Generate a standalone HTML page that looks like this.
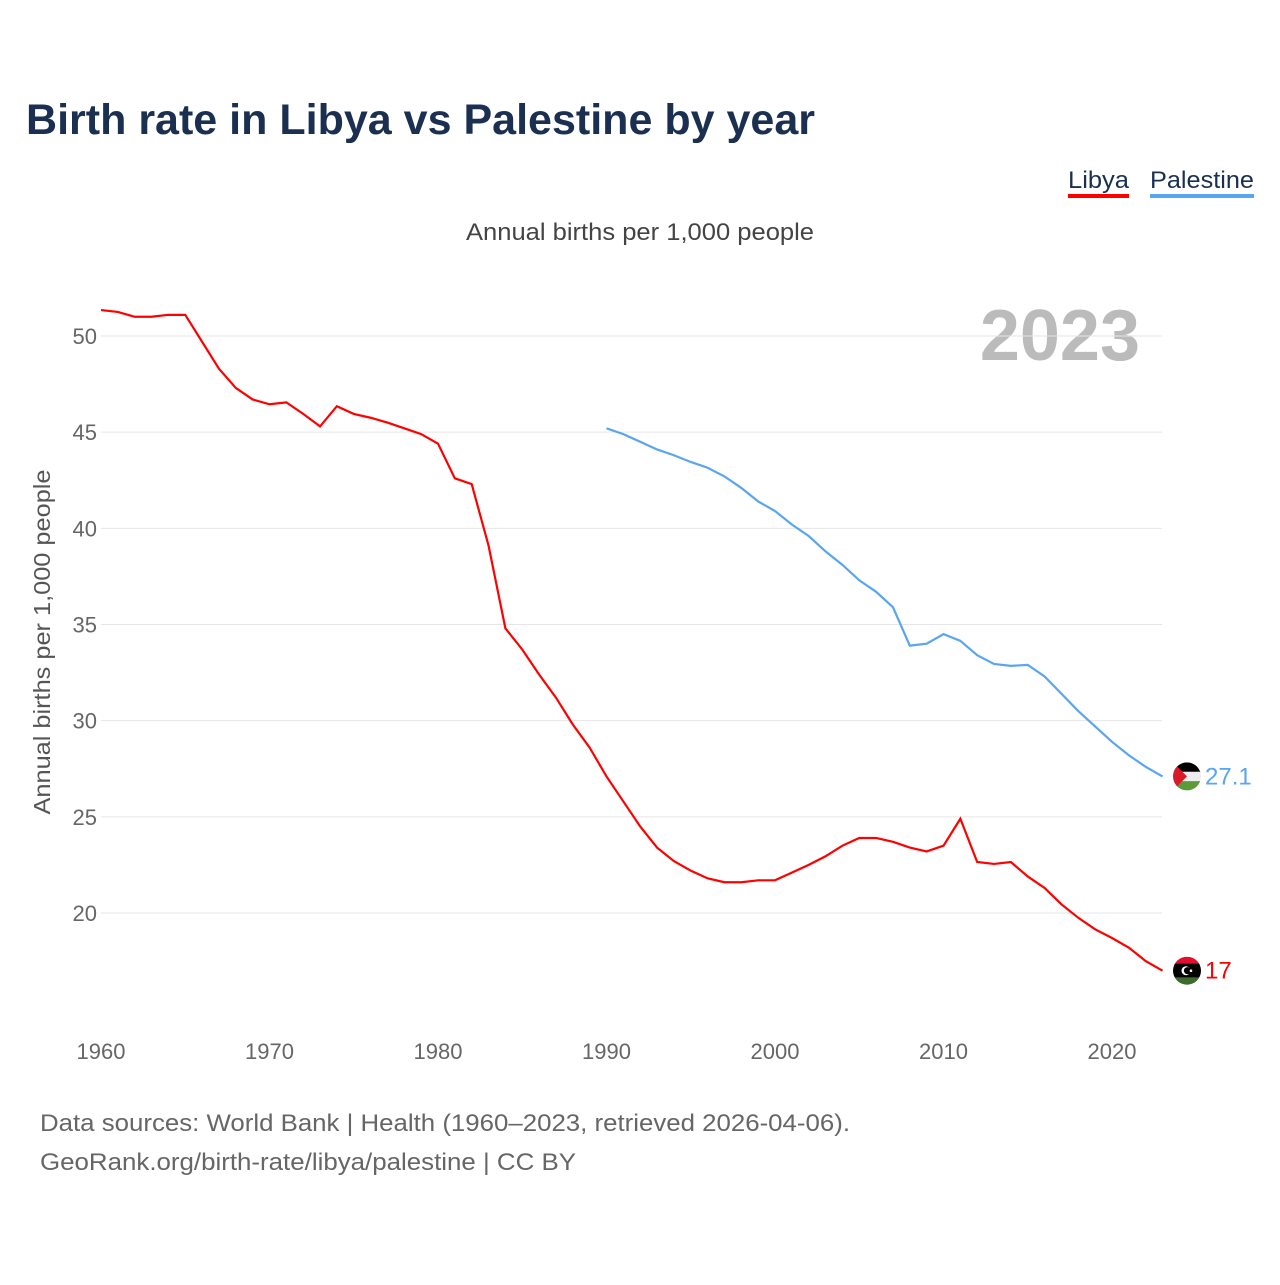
<!DOCTYPE html>
<html><head><meta charset="utf-8"><style>
body{margin:0;width:1280px;height:1280px;background:#fff;font-family:"Liberation Sans",sans-serif;overflow:hidden}
svg text{font-family:"Liberation Sans",sans-serif}
</style></head><body>
<svg width="1280" height="1280">
<text x="26" y="134" font-size="43" font-weight="bold" fill="#1b3050" textLength="789" lengthAdjust="spacingAndGlyphs">Birth rate in Libya vs Palestine by year</text>
<g>
<text x="1068" y="188" font-size="24" fill="#1b3050" textLength="61" lengthAdjust="spacingAndGlyphs">Libya</text>
<rect x="1068" y="194" width="61" height="4" fill="#ff0000"></rect>
<text x="1150" y="188" font-size="24" fill="#1b3050" textLength="104" lengthAdjust="spacingAndGlyphs">Palestine</text>
<rect x="1150" y="194" width="104" height="4" fill="#5aa5ef"></rect>
</g>
<text x="466" y="240" font-size="24" fill="#444" textLength="348" lengthAdjust="spacingAndGlyphs">Annual births per 1,000 people</text>
<text transform="translate(50,642) rotate(-90)" font-size="23" fill="#555" text-anchor="middle" textLength="345" lengthAdjust="spacingAndGlyphs">Annual births per 1,000 people</text>
<text x="1140" y="360" font-size="72" font-weight="bold" fill="#bbb" text-anchor="end">2023</text>
<g id="grid"></g><g id="lines"></g>
<text x="40" y="1131" font-size="24" fill="#666" textLength="810" lengthAdjust="spacingAndGlyphs">Data sources: World Bank | Health (1960–2023, retrieved 2026-04-06).</text>
<text x="40" y="1170" font-size="24" fill="#666" textLength="536" lengthAdjust="spacingAndGlyphs">GeoRank.org/birth-rate/libya/palestine | CC BY</text>
</svg>
<script>
const libyaYears=[1960,1961,1962,1963,1964,1965,1966,1967,1968,1969,1970,1971,1972,1973,1974,1975,1976,1977,1978,1979,1980,1981,1982,1983,1984,1985,1986,1987,1988,1989,1990,1991,1992,1993,1994,1995,1996,1997,1998,1999,2000,2001,2002,2003,2004,2005,2006,2007,2008,2009,2010,2011,2012,2013,2014,2015,2016,2017,2018,2019,2020,2021,2022,2023];
const libyaValues=[51.35,51.25,51.0,51.0,51.1,51.1,49.7,48.3,47.3,46.7,46.45,46.55,45.95,45.3,46.35,45.95,45.75,45.5,45.2,44.9,44.4,42.6,42.3,39.1,34.8,33.7,32.4,31.2,29.8,28.6,27.1,25.8,24.5,23.4,22.7,22.2,21.8,21.6,21.6,21.7,21.7,22.1,22.5,22.95,23.5,23.9,23.9,23.7,23.4,23.2,23.5,24.9,22.65,22.55,22.65,21.9,21.3,20.45,19.75,19.15,18.7,18.2,17.5,17.0];
const palYears=[1990,1991,1992,1993,1994,1995,1996,1997,1998,1999,2000,2001,2002,2003,2004,2005,2006,2007,2008,2009,2010,2011,2012,2013,2014,2015,2016,2017,2018,2019,2020,2021,2022,2023];
const palValues=[45.2,44.9,44.5,44.1,43.8,43.45,43.15,42.7,42.1,41.4,40.9,40.2,39.6,38.8,38.1,37.3,36.7,35.9,33.9,34.0,34.5,34.15,33.4,32.95,32.85,32.9,32.3,31.4,30.5,29.7,28.9,28.2,27.6,27.1];
const yTicks=[20,25,30,35,40,45,50];
const xTicks=[1960,1970,1980,1990,2000,2010,2020];
const NS="http://www.w3.org/2000/svg";
const xs=y=>101+(y-1960)*16.85;
const ys=v=>336+(50-v)*19.233;
function mk(t,a,p){const e=document.createElementNS(NS,t);for(const k in a)e.setAttribute(k,a[k]);p.appendChild(e);return e;}
const g=document.getElementById('grid'),L=document.getElementById('lines');
yTicks.forEach(v=>{
 const l=mk('line',{x1:101,x2:1162,y1:ys(v),y2:ys(v),stroke:'#e6e6e6','stroke-width':1},g);
 
 
 const t=mk('text',{x:97,y:ys(v)+8,'font-size':22,fill:'#666','text-anchor':'end'},g);t.textContent=v;
 
 
});
xTicks.forEach(v=>{
 const t=mk('text',{x:xs(v),y:1059,'font-size':22,fill:'#666','text-anchor':'middle'},g);t.textContent=v;
 
 
});
function line(yr,vals,col,name){
 const p=mk('path',{d:yr.map((y,i)=>(i?'L':'M')+xs(y)+','+ys(vals[i])).join(''),fill:'none',stroke:col,'stroke-width':2.2},L);
 
 
}
line(libyaYears,libyaValues,'#ff0000','libya-line');
line(palYears,palValues,'#5aa5ef','palestine-line');
const pl=palValues[palValues.length-1],ll=libyaValues[libyaValues.length-1];
const fx=1187;
const defs=mk('defs',{},L);
const c1=mk('clipPath',{id:'cp'},defs);mk('circle',{cx:fx,cy:ys(pl),r:14},c1);
const c2=mk('clipPath',{id:'cl'},defs);mk('circle',{cx:fx,cy:ys(ll),r:14},c2);
const pf=mk('g',{'clip-path':'url(#cp)'},L);


let py=ys(pl);
mk('rect',{x:fx-14,y:py-14,width:28,height:10,fill:'#000'},pf);
mk('rect',{x:fx-14,y:py-4.7,width:28,height:9.4,fill:'#eee'},pf);
mk('rect',{x:fx-14,y:py+4.7,width:28,height:10,fill:'#5c9a3a'},pf);
mk('polygon',{points:`${fx-14},${py-14} ${fx},${py} ${fx-14},${py+14}`,fill:'#d91a2a'},pf);
const lf=mk('g',{'clip-path':'url(#cl)'},L);


let ly=ys(ll);
mk('rect',{x:fx-14,y:ly-14,width:28,height:8,fill:'#e0102a'},lf);
mk('rect',{x:fx-14,y:ly-7,width:28,height:14,fill:'#000'},lf);
mk('rect',{x:fx-14,y:ly+7,width:28,height:8,fill:'#3d6b2a'},lf);
mk('circle',{cx:fx-1,cy:ly,r:4.5,fill:'#fff'},lf);
mk('circle',{cx:fx+0.5,cy:ly,r:3.6,fill:'#000'},lf);
mk('circle',{cx:fx+4,cy:ly,r:1.3,fill:'#fff'},lf);
const t1=mk('text',{x:1205,y:py+8,'font-size':24,fill:'#5aa5ef'},L);t1.textContent=pl;


const t2=mk('text',{x:1205,y:ly+8,'font-size':24,fill:'#ff0000'},L);t2.textContent=ll;


</script>
</body></html>
